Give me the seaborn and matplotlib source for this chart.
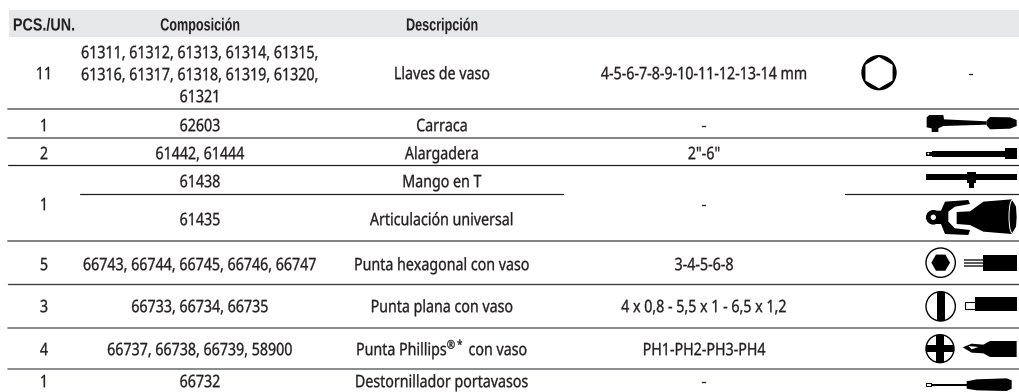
import matplotlib.pyplot as plt
import matplotlib.patches as mp
import matplotlib.patheffects as pe
from matplotlib.transforms import Affine2D
import numpy as np
import seaborn as sns

# Table content
headers = ['PCS./UN.', 'Composición', 'Descripción']
header_x = [44, 200, 442]
header_squeeze = [0.82, 0.72, 0.72]
pcs = ['11', '1', '2', '1', '5', '3', '4', '1']
composition = [
    ['61311, 61312, 61313, 61314, 61315,', '61316, 61317, 61318, 61319, 61320,', '61321'],
    ['62603'],
    ['61442, 61444'],
    ['61438'],
    ['61435'],
    ['66743, 66744, 66745, 66746, 66747'],
    ['66733, 66734, 66735'],
    ['66737, 66738, 66739, 58900'],
    ['66732'],
]
description = ['Llaves de vaso', 'Carraca', 'Alargadera', 'Mango en T', 'Articulación universal',
               'Punta hexagonal con vaso', 'Punta plana con vaso', 'Punta Phillips$^{®*}$ con vaso',
               'Destornillador portavasos']
sizes = ['4-5-6-7-8-9-10-11-12-13-14 mm', '-', '2"-6"', '-', '3-4-5-6-8',
         '4 x 0,8 - 5,5 x 1 - 6,5 x 1,2', 'PH1-PH2-PH3-PH4', '-']

# row centres, pixels from top
pcs_y = [73, 125, 153, 204, 264, 306, 349, 381]
row_y = [73, 125, 153, 181, 219, 264, 306, 349, 381]
size_y = [73, 125, 153, 204, 264, 306, 349, 381]
block_y = [52, 74, 96]

sns.set_theme(style='white')
plt.rcParams['font.family'] = ['Noto Sans', 'DejaVu Sans']
plt.rcParams['mathtext.fontset'] = 'custom'
plt.rcParams['mathtext.rm'] = 'Noto Sans'
plt.rcParams['mathtext.default'] = 'regular'

fig = plt.figure(figsize=(10.2, 3.92), dpi=100)
ax = fig.add_axes([0, 0, 1, 1])
ax.set_xlim(0, 1020)
ax.set_ylim(392, 0)
ax.axis('off')

INK = '#231f20'
GRAY = '#77787b'
FS = 12.4


# no condensed face is installed, so the real text gets squeezed when it is drawn
class Squeeze(pe.AbstractPathEffect):
    def __init__(self, cx, sx, stroke=0.0):
        super().__init__()
        self.cx = cx
        self.sx = sx
        self.stroke = stroke

    def draw_path(self, renderer, gc, tpath, affine, rgbFace=None):
        squeeze = Affine2D().translate(-self.cx, 0).scale(self.sx, 1).translate(self.cx, 0)
        gc0 = renderer.new_gc()
        gc0.copy_properties(gc)
        gc0.set_linewidth(self.stroke)
        gc0.set_foreground(INK)
        renderer.draw_path(gc0, tpath, affine + squeeze, rgbFace)
        gc0.restore()


def label(x, y, s):
    t = ax.text(x, y + 6.2, s, ha='center', va='baseline', fontsize=FS, color=INK)
    t.set_path_effects([Squeeze(x, 0.826, 0.22)])


# header band
ax.add_patch(mp.Rectangle((9, 10), 1011, 27, fc='#e6e7e8', ec='none', zorder=0))
for x, h, sx in zip(header_x, headers, header_squeeze):
    t = ax.text(x, 30.5, h, ha='center', va='baseline', fontsize=12.6, fontweight='bold',
                family=['Liberation Sans', 'DejaVu Sans'], color=INK)
    t.set_path_effects([Squeeze(x, sx, 0.0)])

# rules
for y, c, lw in [(108.5, GRAY, 1.3), (137.5, GRAY, 1.3), (165, INK, 0.9), (241, GRAY, 1.3),
                 (284, '#414042', 1.0), (328, GRAY, 1.2), (369, GRAY, 1.2)]:
    ax.plot([8, 1020], [y, y], color=c, lw=lw, zorder=1)
ax.plot([80, 563], [193.5, 193.5], color=INK, lw=0.9, zorder=1)
ax.plot([845, 1020], [193.5, 193.5], color=INK, lw=0.9, zorder=1)

# text columns
for y, t in zip(pcs_y, pcs):
    label(44, y, t)
for y, lines, d in zip(row_y, composition, description):
    if len(lines) == 3:
        for ly, t in zip(block_y, lines):
            label(200, ly, t)
    else:
        label(200, y, lines[0])
    label(442, y, d)
for y, t in zip(size_y, sizes):
    label(704, y, t)
label(971, 73, '-')


# icon helpers: coordinates are read in the 3x crop of the right half
def px(zx, zy, y0=0):
    return 510 + zx / 3, y0 + zy / 3


def poly(points, y0=0, fc='black', ec='none', lw=0, z=3):
    ax.add_patch(mp.Polygon([px(a, b, y0) for a, b in points], closed=True, fc=fc, ec=ec, lw=lw, zorder=z))


def box(x0, x1, y_a, y_b, y0=0, **kw):
    poly([(x0, y_a), (x1, y_a), (x1, y_b), (x0, y_b)], y0, **kw)


def circ(zx, zy, r, y0=0, fc='black', ec='none', lw=0, z=3):
    ax.add_patch(mp.Circle(px(zx, zy, y0), r / 3, fc=fc, ec=ec, lw=lw, zorder=z))


def hexagon(zx, zy, r, y0=0, fc='black', start=90, z=4):
    a = np.radians(start + np.arange(6) * 60)
    pts = [px(zx + r * np.cos(t), zy + r * np.sin(t), y0) for t in a]
    ax.add_patch(mp.Polygon(pts, closed=True, fc=fc, ec='none', zorder=z))


# socket hexagon
circ(1107, 218, 53)
hexagon(1107, 218, 47, fc='white')

# ratchet
poly([(1250, 352), (1258, 345), (1300, 345), (1302, 358), (1430, 364), (1430, 374), (1300, 378),
      (1285, 385), (1285, 396), (1265, 396), (1265, 385), (1250, 382)])
poly([(1430, 362), (1440, 351), (1500, 352), (1520, 360), (1520, 378), (1500, 386), (1440, 388), (1430, 376)])

# extension
box(1265, 1487, 452, 472)
box(1485, 1520, 445, 478)
box(1248, 1266, 455, 468)
circ(1255, 461, 3, fc='white', z=4)

# T handle
box(1248, 1520, 522, 540)
box(1372, 1397, 515, 548)
box(1378, 1392, 548, 563)

# universal joint, read in its own crop at x 915, y 190
def uj(points):
    ax.add_patch(mp.Polygon([(915 + a / 3, 190 + b / 3) for a, b in points], closed=True, fc='black',
                            ec='none', zorder=3))


ax.add_patch(mp.Circle((933.3, 217.3), 22 / 3, fc='black', ec='none', zorder=3))
ax.add_patch(mp.Circle((933.3, 217.3), 8 / 3, fc='white', ec='none', zorder=4))
uj([(55, 62), (78, 62), (90, 35), (160, 30), (165, 42), (120, 50), (100, 65), (100, 95), (120, 115),
    (165, 120), (160, 135), (90, 132), (78, 102), (55, 102)])
uj([(125, 66), (165, 64), (205, 35), (290, 28), (303, 50), (305, 82), (303, 110), (290, 132), (205, 125),
    (165, 105), (125, 102)])
ax.add_patch(mp.Arc((915 + 292 / 3, 190 + 80 / 3), 20 / 3, 100 / 3, theta1=90, theta2=270, color='white',
                    lw=0.7, zorder=4))

y0 = 192
# hex bit
circ(1292, 212, 44, y0, fc='white', ec='black', lw=1.0)
hexagon(1292, 212, 28, y0, start=0)
box(1362, 1425, 200, 225, y0, fc='#58595b')
box(1362, 1425, 206, 210, y0, fc='white')
box(1362, 1425, 216, 219, y0, fc='white')
box(1420, 1520, 190, 237, y0)

# flat bit
circ(1292, 343, 44, y0, fc='white', ec='black', lw=1.0)
box(1280, 1304, 299, 387, y0, z=4)
box(1366, 1394, 329, 352, y0, fc='white', ec='black', lw=0.8)
box(1394, 1520, 315, 358, y0)

# phillips bit
circ(1290, 470, 42, y0, fc='white', ec='black', lw=1.0)
box(1279, 1301, 428, 512, y0, z=4)
box(1248, 1332, 459, 481, y0, z=4)
poly([(1358, 466), (1385, 455), (1420, 458), (1440, 447), (1520, 447), (1520, 495), (1440, 495), (1420, 484),
      (1385, 482)], y0)
poly([(1375, 462), (1405, 465), (1385, 472)], y0, fc='white', z=4)

# screwdriver
box(1248, 1262, 574, 583, y0, fc='white', ec='black', lw=0.7)
box(1262, 1372, 575, 581, y0)
poly([(1370, 568), (1400, 562), (1490, 559), (1505, 565), (1505, 590), (1490, 597), (1400, 595), (1370, 590)], y0)

sns.despine(ax=ax, left=True, bottom=True)
fig.savefig('out.png', dpi=100)
